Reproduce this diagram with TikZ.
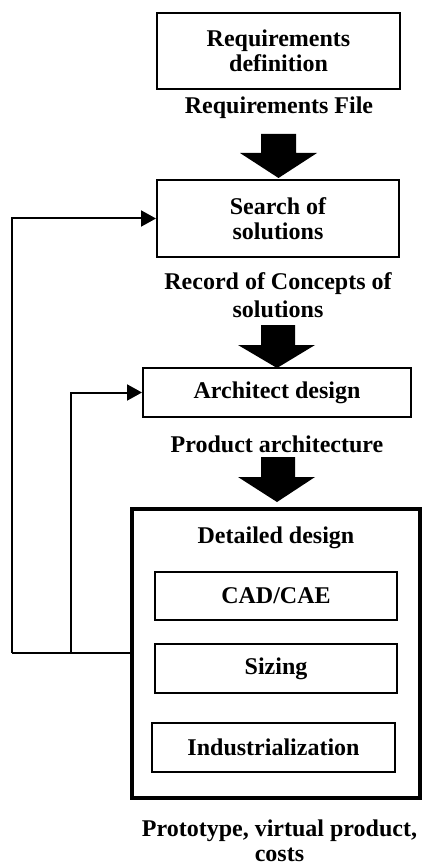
\documentclass[tikz,border=0pt]{standalone}
\usepackage{fontspec}
\setmainfont{Liberation Serif}
\usetikzlibrary{arrows.meta}
\begin{document}
\begin{tikzpicture}[x=1pt,y=-1pt,
  txt/.style={font=\fontsize{24}{25.5}\selectfont\bfseries, align=center, inner sep=0pt},
  box/.style={txt, draw, line width=2pt, rectangle},
  bigbox/.style={draw, line width=4pt, rectangle, inner sep=0pt},
  fb/.style={line width=2pt, -{Triangle[length=15pt,width=16pt]}},
  fbl/.style={line width=2pt},
  blk/.style={fill=black}]
\useasboundingbox (0,0) rectangle (425,866);
% boxes
\node[box, minimum width=243pt, minimum height=76pt] (req) at (278.5,51) {Requirements\\definition};
\node[txt, anchor=base] (reqf) at (279,114) {Requirements File};
\node[box, minimum width=242pt, minimum height=77pt] (search) at (278,218.5) {Search of\\solutions};
\node[txt, anchor=base] (rec1) at (278,290) {Record of Concepts of};
\node[txt, anchor=base] (rec2) at (278,317) {solutions};
\node[box, minimum width=268pt, minimum height=49pt] (arch) at (277,392.5) {Architect design};
\node[txt, anchor=base] (prod) at (277,452) {Product architecture};
\node[bigbox, minimum width=288pt, minimum height=289pt] (det) at (276,653) {};
\node[txt, anchor=base] (dett) at (276,543) {Detailed design};
\node[box, minimum width=242pt, minimum height=48pt] (cad) at (276,596) {CAD/CAE};
\node[box, minimum width=242pt, minimum height=49pt] (siz) at (276,668.5) {Sizing};
\node[box, minimum width=243pt, minimum height=49pt] (ind) at (273.5,747.5) {Industrialization};
\node[txt, anchor=base] (proto1) at (279.5,836) {Prototype, virtual product,};
\node[txt, anchor=base] (proto2) at (279.5,861) {costs};
% block arrows
\fill[blk] (261,134) -- (296,134) -- (296,153) -- (317,153) -- (278.5,178) -- (240,153) -- (261,153) -- cycle;
\fill[blk] (261,325) -- (295,325) -- (295,345) -- (315,345) -- (277,368) -- (238,345) -- (261,345) -- cycle;
\fill[blk] (261,457) -- (295,457) -- (295,477) -- (315,477) -- (277,502) -- (238,477) -- (261,477) -- cycle;
% feedback
\coordinate (c1) at (12,653);
\coordinate (c2) at (71,653);
\draw[fbl] (det.west) -- (c1);
\draw[fb] (c1) |- (search.west);
\draw[fb] (c2) |- (arch.west);
\end{tikzpicture}
\end{document}
